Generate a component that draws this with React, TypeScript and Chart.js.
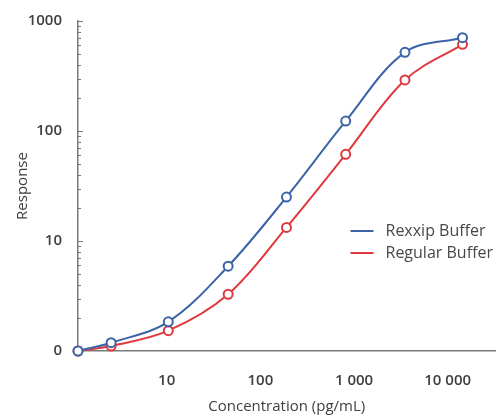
import React, { useEffect, useRef } from 'react';
import { Chart, registerables } from 'chart.js';

Chart.register(...registerables);

const concentrations = [1.13, 2.55, 10.4, 45.3, 190, 815, 3500, 14400];
const rexxipResponse = [1, 1.19, 1.84, 5.9, 25.1, 123, 519, 705];
const regularResponse = [1, 1.11, 1.53, 3.28, 13.3, 61.4, 291, 614];
const seriesNames = ['Rexxip Buffer', 'Regular Buffer'];
const xTickValues = [10, 100, 1000, 10000];
const xTickLabels = ['10', '100', '1 000', '10 000'];
const yTickValues = [1, 10, 100, 1000];
const yTickLabels = ['0', '10', '100', '1000'];
const xTitle = 'Concentration (pg/mL)';
const yTitle = 'Response';

const BLUE = '#3c64a8';
const RED = '#e0393d';
const AXIS = '#7a7a7a';
const TEXT = '#3f3f3f';
const FONT = "'Open Sans', 'DejaVu Sans', sans-serif";

const minorTicks = {
  id: 'minorTicks',
  afterDraw(chart: any) {
    const { ctx } = chart;
    const y = chart.scales.y;
    const left = chart.chartArea.left;
    ctx.save();
    ctx.strokeStyle = AXIS;
    ctx.lineWidth = 1;
    for (let d = 1; d <= 1000; d *= 10) {
      for (let k = 1; k <= 9; k++) {
        const v = d * k;
        if (v > 1000 || v === 1) continue;
        const py = Math.round(y.getPixelForValue(v)) + 0.5;
        const len = k === 1 ? 5 : 3;
        ctx.beginPath();
        ctx.moveTo(left, py);
        ctx.lineTo(left + len, py);
        ctx.stroke();
      }
    }
    ctx.restore();
  },
};

const customLegend = {
  id: 'customLegend',
  afterDraw(chart: any) {
    const { ctx, chartArea } = chart;
    const x0 = chartArea.right - 145;
    const y0 = chartArea.top + 210;
    ctx.save();
    ctx.font = `16px ${FONT}`;
    ctx.textBaseline = 'middle';
    ctx.textAlign = 'left';
    chart.data.datasets.forEach((ds: any, i: number) => {
      const y = y0 + i * 22;
      ctx.strokeStyle = ds.borderColor;
      ctx.lineWidth = 2;
      ctx.beginPath();
      ctx.moveTo(x0, y);
      ctx.lineTo(x0 + 23, y);
      ctx.stroke();
      ctx.fillStyle = '#484848';
      ctx.fillText(ds.label, x0 + 35, y);
    });
    ctx.restore();
  },
};

export default function App() {
  const canvasRef = useRef<HTMLCanvasElement | null>(null);

  useEffect(() => {
    if (!canvasRef.current) return;
    const makeDataset = (label: string, values: number[], color: string) => ({
      label,
      data: concentrations.map((x, i) => ({ x, y: values[i] })),
      borderColor: color,
      backgroundColor: '#ffffff',
      pointBackgroundColor: '#ffffff',
      pointBorderColor: color,
      pointBorderWidth: 2,
      pointRadius: 4.5,
      borderWidth: 2,
      tension: 0.35,
      clip: false as any,
    });
    const chart = new Chart(canvasRef.current, {
      type: 'line',
      data: {
        datasets: [
          makeDataset(seriesNames[0], rexxipResponse, BLUE),
          makeDataset(seriesNames[1], regularResponse, RED),
        ],
      },
      options: {
        animation: false,
        responsive: false,
        layout: { padding: { top: 21, right: 5, left: 0, bottom: 0 } },
        plugins: {
          legend: { display: false },
          tooltip: { enabled: false },
        },
        scales: {
          x: {
            type: 'logarithmic',
            min: 1.13,
            max: 32400,
            afterBuildTicks: (scale: any) => {
              scale.ticks = xTickValues.map((v) => ({ value: v }));
            },
            afterFit: (scale: any) => {
              scale.height = 67;
            },
            ticks: {
              autoSkip: false,
              maxRotation: 0,
              padding: 0,
              color: TEXT,
              font: { family: FONT, size: 15, weight: '600' },
              callback: (v: any) => {
                const i = xTickValues.indexOf(Number(v));
                return i >= 0 ? xTickLabels[i] : '';
              },
            },
            grid: {
              display: true,
              drawOnChartArea: false,
              drawTicks: true,
              tickLength: 21,
              tickColor: 'rgba(0,0,0,0)',
            },
            border: { display: true, color: AXIS, width: 1.5 },
            title: {
              display: true,
              text: xTitle,
              color: TEXT,
              font: { family: FONT, size: 15 },
              padding: { top: 0, bottom: 2 },
            },
          },
          y: {
            type: 'logarithmic',
            min: 1,
            max: 1000,
            afterBuildTicks: (scale: any) => {
              scale.ticks = yTickValues.map((v) => ({ value: v }));
            },
            afterFit: (scale: any) => {
              scale.width = 78;
            },
            ticks: {
              autoSkip: false,
              padding: 0,
              color: TEXT,
              font: { family: FONT, size: 15, weight: '600' },
              callback: (v: any) => {
                const i = yTickValues.indexOf(Number(v));
                return i >= 0 ? yTickLabels[i] : '';
              },
            },
            grid: {
              display: true,
              drawOnChartArea: false,
              drawTicks: true,
              tickLength: 16,
              tickColor: 'rgba(0,0,0,0)',
            },
            border: { display: true, color: AXIS, width: 1.5 },
            title: {
              display: true,
              text: yTitle,
              color: TEXT,
              font: { family: FONT, size: 15 },
              padding: { top: 14, bottom: 0 },
            },
          },
        },
      },
      plugins: [minorTicks, customLegend],
    });
    return () => chart.destroy();
  }, []);

  return (
    <div style={{ position: 'absolute', left: 0, top: 0, width: 502, height: 418, background: '#ffffff' }}>
      <canvas ref={canvasRef} width={502} height={418} style={{ display: 'block' }} />
    </div>
  );
}
